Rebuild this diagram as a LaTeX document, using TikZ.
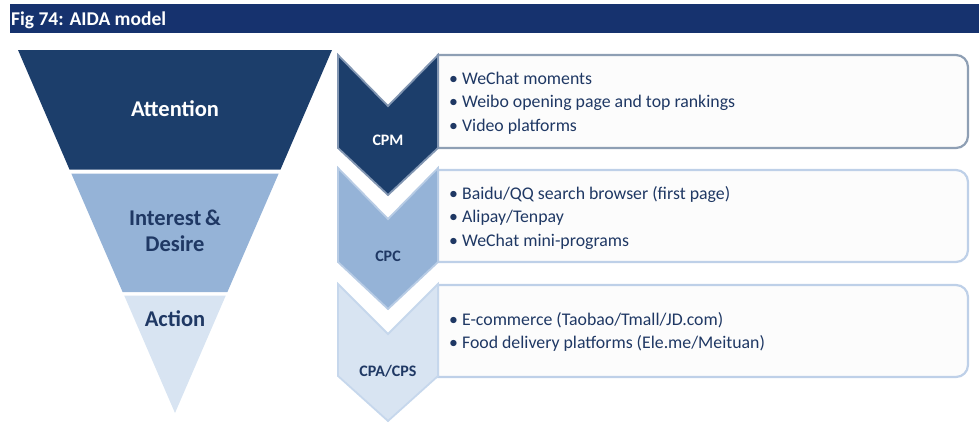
\documentclass[tikz,border=0pt]{standalone}
\usepackage{fontspec}
\setmainfont{Carlito}
\definecolor{titlebg}{RGB}{22,50,110}
\definecolor{navy}{RGB}{28,62,107}
\definecolor{midblue}{RGB}{149,179,215}
\definecolor{paleblue}{RGB}{216,228,242}
\definecolor{txtdark}{RGB}{31,56,100}
\definecolor{boxfill}{RGB}{252,252,252}
\definecolor{borderA}{RGB}{142,159,180}
\definecolor{borderB}{RGB}{190,208,232}
\definecolor{chevA}{RGB}{130,150,178}
\definecolor{chevB}{RGB}{184,204,229}
\definecolor{chevC}{RGB}{198,215,236}
\tikzset{
  funneltxt/.style={font=\fontsize{22.5}{25.3}\selectfont\bfseries, align=center, inner sep=0pt},
  chevtxt/.style={font=\fontsize{16}{18}\selectfont\bfseries, anchor=base, inner sep=0pt},
  bullettxt/.style={font=\fontsize{17.8}{21}\selectfont, text=txtdark, anchor=base west, inner sep=0pt},
  boxline/.style={line width=2.2pt, fill=boxfill},
  chevline/.style={line width=1.8pt, line join=miter}
}
\begin{document}
\begin{tikzpicture}[x=1pt,y=-1pt]
\useasboundingbox (0,0) rectangle (979,423);
% title bar
\fill[titlebg] (10,4) rectangle (979,33);
\node[font=\fontsize{19.5}{21}\selectfont\bfseries, text=white, anchor=base west, inner sep=0pt] (title) at (11,25) {Fig 74: AIDA model};
% funnel
\fill[navy] (18,50) -- (332,50) -- (280.5,169.5) -- (69.5,169.5) -- cycle;
\fill[midblue] (71.3,173.5) -- (278.7,173.5) -- (227.4,292) -- (122.6,292) -- cycle;
\fill[paleblue] (124.2,295.5) -- (225.8,295.5) -- (175,413) -- cycle;
\node[funneltxt, text=white, anchor=base] (att) at (175,116.5) {Attention};
\node[funneltxt, text=txtdark, anchor=base] (int1) at (175,225.7) {Interest\,\&};
\node[funneltxt, text=txtdark, anchor=base] (int2) at (175,251) {Desire};
\node[funneltxt, text=txtdark, anchor=base] (act) at (175,326.7) {Action};
% boxes
\draw[boxline, draw=borderA] (438,55) -- (956,55) to[out=0,in=90] (968,67) -- (968,136) to[out=-90,in=0] (956,148) -- (438,148) -- cycle;
\draw[boxline, draw=borderB] (438,170) -- (956,170) to[out=0,in=90] (968,182) -- (968,250) to[out=-90,in=0] (956,262) -- (438,262) -- cycle;
\draw[boxline, draw=borderB] (438,285) -- (956,285) to[out=0,in=90] (968,297) -- (968,365) to[out=-90,in=0] (956,377) -- (438,377) -- cycle;
% chevrons
\draw[chevline, draw=chevA, fill=navy] (338,55) -- (388,106) -- (438,55) -- (438,148) -- (388,195) -- (338,148) -- cycle;
\draw[chevline, draw=chevB, fill=midblue] (338,168) -- (388,219) -- (438,168) -- (438,262) -- (388,309) -- (338,262) -- cycle;
\draw[chevline, draw=chevC, fill=paleblue] (338,284) -- (388,334) -- (438,284) -- (438,376) -- (388,421) -- (338,376) -- cycle;
\node[chevtxt, text=white] (cpm) at (388,145) {CPM};
\node[chevtxt, text=txtdark] (cpc) at (388,261) {CPC};
\node[chevtxt, text=txtdark] (cpa) at (388,376) {CPA/CPS};
% bullet text
\node[bullettxt] (b1) at (449,84) {•\ WeChat moments};
\node[bullettxt] (b2) at (449,107.5) {•\ Weibo opening page and top rankings};
\node[bullettxt] (b3) at (449,131) {•\ Video platforms};
\node[bullettxt] (b4) at (449,199) {•\ Baidu/QQ search browser (first page)};
\node[bullettxt] (b5) at (449,222.5) {•\ Alipay/Tenpay};
\node[bullettxt] (b6) at (449,246) {•\ WeChat mini-programs};
\node[bullettxt] (b7) at (449,325) {•\ E-commerce (Taobao/Tmall/JD.com)};
\node[bullettxt] (b8) at (449,348.5) {•\ Food delivery platforms (Ele.me/Meituan)};
\end{tikzpicture}
\end{document}
